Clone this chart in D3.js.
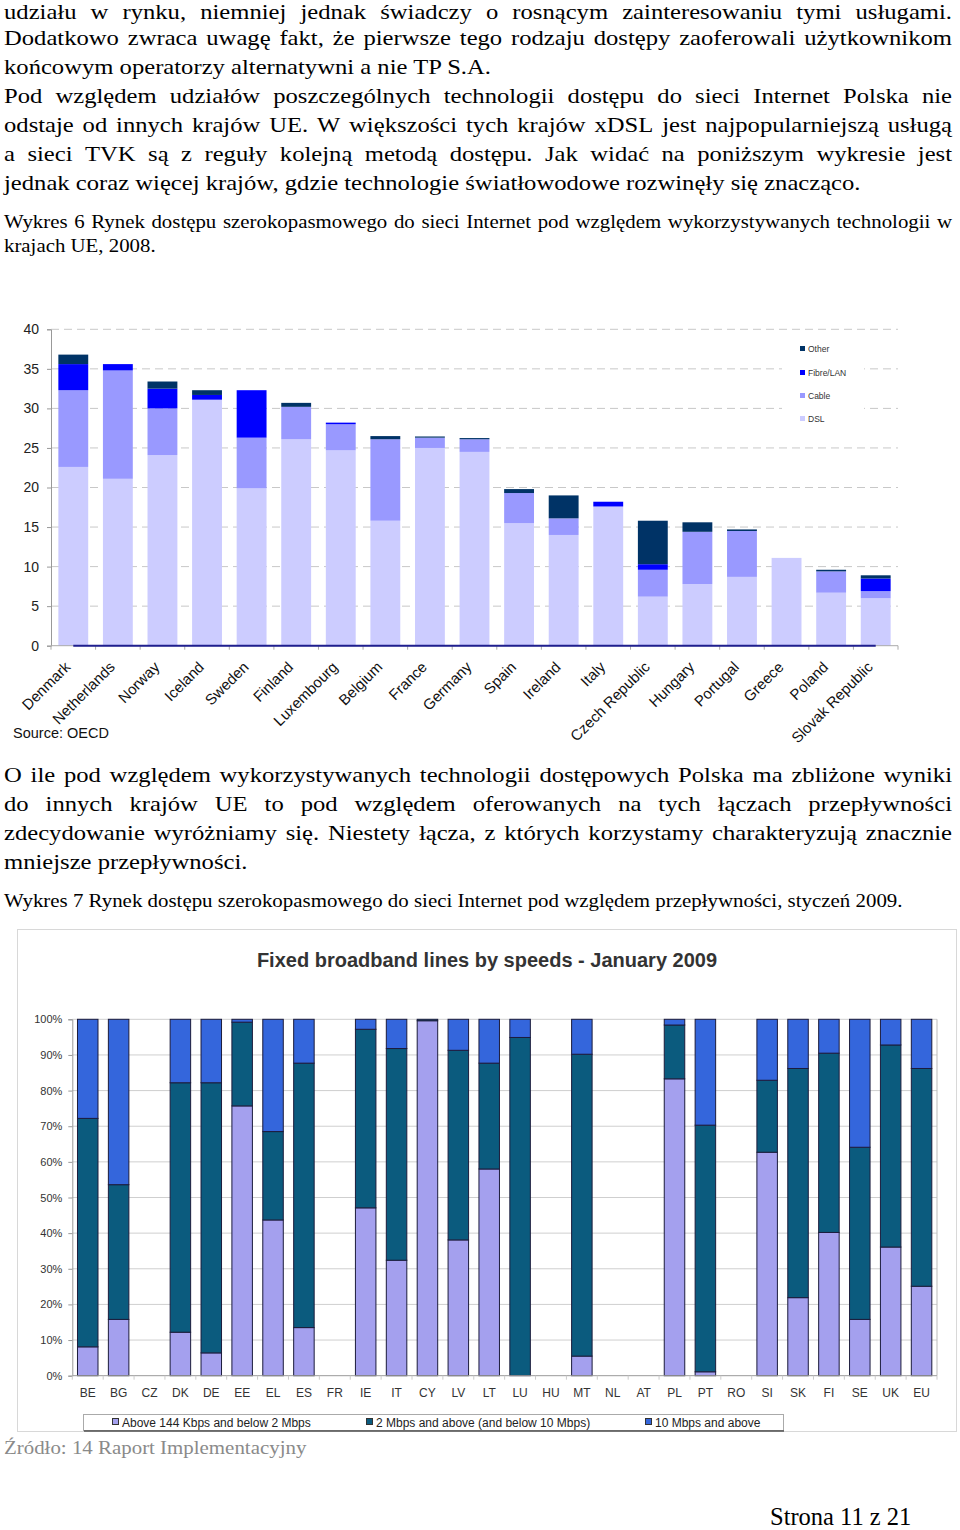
<!DOCTYPE html>
<html><head><meta charset="utf-8">
<script src="https://cdn.jsdelivr.net/npm/d3@7"></script>
<style>
body{margin:0;background:#fff;width:960px;height:1530px;overflow:hidden}
svg{display:block}
</style></head><body>
<script>
// ---------- Chart 1 data (Wykres 6) ----------
const techCountries = ["Denmark","Netherlands","Norway","Iceland","Sweden","Finland","Luxembourg","Belgium","France","Germany","Spain","Ireland","Italy","Czech Republic","Hungary","Portugal","Greece","Poland","Slovak Republic"];
const dslVals   = [22.6,21.1,24.1,31.1,19.9,26.1,24.7,15.8,25.0,24.5,15.5,14.0,17.6,6.2,7.8,8.7,11.1,6.7,6.0];
const cableVals = [9.7,13.7,5.9,0,6.4,4.1,3.3,10.3,1.3,1.6,3.8,2.1,0,3.4,6.6,5.8,0,2.7,0.9];
const fibreVals = [3.3,0.8,2.5,0.6,6.0,0,0.2,0,0,0,0,0,0.6,0.7,0,0,0,0,1.6];
const otherVals = [1.2,0,0.9,0.6,0,0.5,0,0.4,0.15,0.15,0.5,2.9,0,5.5,1.2,0.2,0,0.2,0.4];
const techSeries = ["DSL","Cable","Fibre/LAN","Other"];
const techTicks = [0,5,10,15,20,25,30,35,40];

// ---------- Chart 2 data (Wykres 7) ----------
const speedCodes = ["BE","BG","CZ","DK","DE","EE","EL","ES","FR","IE","IT","CY","LV","LT","LU","HU","MT","NL","AT","PL","PT","RO","SI","SK","FI","SE","UK","EU"];
const below2Vals  = [8.1,15.8,0,12.2,6.4,75.7,43.7,13.5,0,47.1,32.4,99.6,38.1,58.0,0,0,5.5,0,0,83.3,1.1,0,62.7,21.9,40.2,15.8,36.1,25.1];
const mid2to10Vals= [64.1,37.8,0,70.0,75.8,23.5,24.8,74.2,0,50.1,59.4,0.4,53.2,29.7,94.9,0,84.7,0,0,15.1,69.2,0,20.2,64.3,50.3,48.3,56.7,61.1];
const above10Vals = [27.8,46.4,0,17.8,17.8,0.8,31.5,12.3,0,2.8,8.2,0,8.7,12.3,5.1,0,9.8,0,0,1.6,29.7,0,17.1,13.8,9.5,35.9,7.2,13.8];
const speedSeries = ["Above 144 Kbps and below 2 Mbps","2 Mbps and above (and below 10 Mbps)","10 Mbps and above"];
const speedTicks = [0,10,20,30,40,50,60,70,80,90,100];

// ---------- Text ----------
const para1 = [
 ["udziału w rynku, niemniej jednak świadczy o rosnącym zainteresowaniu tymi usługami.", true],
 ["Dodatkowo zwraca uwagę fakt, że pierwsze tego rodzaju dostępy zaoferowali użytkownikom", true],
 ["końcowym operatorzy alternatywni a nie TP S.A.", false],
 ["Pod względem udziałów poszczególnych technologii dostępu do sieci Internet Polska nie", true],
 ["odstaje od innych krajów UE. W większości tych krajów xDSL jest najpopularniejszą usługą", true],
 ["a sieci TVK są z reguły kolejną metodą dostępu. Jak widać na poniższym wykresie jest", true],
 ["jednak coraz więcej krajów, gdzie technologie światłowodowe rozwinęły się znacząco.", false]
];
const caption1 = [
 ["Wykres 6 Rynek dostępu szerokopasmowego do sieci Internet pod względem wykorzystywanych technologii w", true],
 ["krajach UE, 2008.", false]
];
const para2 = [
 ["O ile pod względem wykorzystywanych technologii dostępowych Polska ma zbliżone wyniki", true],
 ["do innych krajów UE to pod względem oferowanych na tych łączach przepływności", true],
 ["zdecydowanie wyróżniamy się. Niestety łącza, z których korzystamy charakteryzują znacznie", true],
 ["mniejsze przepływności.", false]
];
const caption2 = "Wykres 7 Rynek dostępu szerokopasmowego do sieci Internet pod względem przepływności, styczeń 2009.";

const svg = d3.select("body").append("svg").attr("width",960).attr("height",1530);
const SERIF = "'Liberation Serif','Times New Roman',serif";
const SANS = "'Liberation Sans',Arial,sans-serif";

function textLine(str, justify, x, y, width, size, sx, color){
  const g = svg.append("g").attr("transform",`translate(${x},${y}) scale(${sx},1)`);
  const t = g.append("text").attr("font-family",SERIF).attr("font-size",size).attr("fill",color||"#000");
  if(!justify){ t.text(str); return; }
  const words = str.split(" ");
  const widths = words.map(w=>{
    const tmp = g.append("text").attr("font-family",SERIF).attr("font-size",size).text(w);
    const l = tmp.node().getComputedTextLength(); tmp.remove(); return l;
  });
  const gap = (width/sx - d3.sum(widths))/(words.length-1);
  let cx = 0;
  words.forEach((w,i)=>{ t.append("tspan").attr("x",cx).text(w); cx += widths[i]+gap; });
}
const SX = 1.12;
para1.forEach((l,i)=>textLine(l[0], l[1], 4, i===0 ? 19 : 15.5+i*29, 948, 22, SX));
caption1.forEach((l,i)=>textLine(l[0], l[1], 4, 228+i*24, 948, 19, SX*0.98));
para2.forEach((l,i)=>textLine(l[0], l[1], 4, 782+i*29, 948, 22, SX));
textLine(caption2, false, 4, 907, 948, 19, 1.1);
textLine("Źródło: 14 Raport Implementacyjny", false, 4, 1454, 948, 19, 1.1, "#8a8a8a");
textLine("Strona 11 z 21", false, 770, 1525, 200, 24.5, 1.0);

// ---------- Chart 1 ----------
(function(){
  const x = d3.scaleBand().domain(techCountries).range([51,898]).paddingInner(0.33).paddingOuter(0.165);
  const y = d3.scaleLinear().domain([0,40]).range([645.7,329.3]);
  const colors = d3.scaleOrdinal().domain(techSeries).range(["#ccccff","#9999ff","#0000ff","#003366"]);
  const g = svg.append("g");
  g.selectAll(".gl").data(techTicks.slice(1)).join("line")
    .attr("x1",51).attr("x2",898).attr("y1",d=>y(d)).attr("y2",d=>y(d))
    .attr("stroke","#c8c8c8").attr("stroke-dasharray","8,5");
  const rows = techCountries.map((c,i)=>({c, "DSL":dslVals[i], "Cable":cableVals[i], "Fibre/LAN":fibreVals[i], "Other":otherVals[i]}));
  const stack = d3.stack().keys(techSeries)(rows);
  g.selectAll(".ser").data(stack).join("g").attr("fill",d=>colors(d.key))
    .selectAll("rect").data(d=>d.filter(p=>p[1]-p[0]>0)).join("rect")
    .attr("x",d=>x(d.data.c)).attr("width",x.bandwidth())
    .attr("y",d=>y(d[1])).attr("height",d=>y(d[0])-y(d[1]));
  const ya = g.append("g").attr("transform","translate(51,0)")
    .call(d3.axisLeft(y).tickValues(techTicks).tickSize(4).tickPadding(8));
  ya.select(".domain").attr("stroke","#999");
  ya.selectAll(".tick line").attr("stroke","#999");
  ya.selectAll("text").attr("font-family",SANS).attr("font-size",14).attr("fill","#222");
  g.append("line").attr("x1",51).attr("x2",898).attr("y1",y(0)).attr("y2",y(0)).attr("stroke","#aaa");
  const bounds = techCountries.map(c=>x(c)-x.step()*x.paddingInner()/2).concat([898]);
  g.selectAll(".xt").data(bounds).join("line").attr("x1",d=>d).attr("x2",d=>d)
    .attr("y1",y(0)).attr("y2",y(0)+4).attr("stroke","#aaa");
  g.append("path").datum(techCountries).attr("fill","none").attr("stroke","#1f1f8f").attr("stroke-width",2)
    .attr("d",d3.line().x(c=>x(c)+x.bandwidth()/2).y(()=>y(0)));
  g.selectAll(".xl").data(techCountries).join("text")
    .attr("transform",c=>`translate(${x(c)+x.bandwidth()/2-2},668) rotate(-45)`)
    .attr("text-anchor","end").attr("font-family",SANS).attr("font-size",15).attr("fill","#111").text(c=>c);
  g.append("rect").attr("x",782).attr("y",338).attr("width",82).attr("height",92).attr("fill","#fff");
  const legItems = ["Other","Fibre/LAN","Cable","DSL"];
  const legY = [349,373,396,419];
  legItems.forEach((k,i)=>{
    g.append("rect").attr("x",800).attr("y",legY[i]-3).attr("width",5).attr("height",5).attr("fill",colors(k));
    g.append("text").attr("x",808).attr("y",legY[i]+3).attr("font-family",SANS).attr("font-size",8.5).attr("fill","#333").text(k);
  });
  svg.append("text").attr("x",13).attr("y",738).attr("font-family",SANS).attr("font-size",14.5).attr("fill","#111").text("Source: OECD");
})();

// ---------- Chart 2 ----------
(function(){
  const g = svg.append("g");
  g.append("rect").attr("x",17.5).attr("y",929.5).attr("width",939).attr("height",502).attr("fill","#fff").attr("stroke","#d8d8d8");
  g.append("text").attr("x",487).attr("y",967).attr("text-anchor","middle").attr("font-family",SANS)
    .attr("font-weight","bold").attr("font-size",20).attr("fill","#333").text("Fixed broadband lines by speeds - January 2009");
  const x = d3.scaleBand().domain(speedCodes).range([72.3,937]).paddingInner(0.336).paddingOuter(0.168);
  const y = d3.scaleLinear().domain([0,100]).range([1375.7,1019.3]);
  const colors = d3.scaleOrdinal().domain(speedSeries).range(["#a4a0ee","#0b5b7e","#3466dc"]);
  g.selectAll(".gl").data(speedTicks.slice(1)).join("line")
    .attr("x1",72.3).attr("x2",937).attr("y1",d=>y(d)).attr("y2",d=>y(d)).attr("stroke","#cfcfcf");
  g.append("line").attr("x1",937).attr("x2",937).attr("y1",y(100)).attr("y2",y(0)).attr("stroke","#bbb");
  const rows = speedCodes.map((c,i)=>({c, [speedSeries[0]]:below2Vals[i], [speedSeries[1]]:mid2to10Vals[i], [speedSeries[2]]:above10Vals[i]}));
  const stack = d3.stack().keys(speedSeries)(rows);
  g.selectAll(".ser").data(stack).join("g").attr("fill",d=>colors(d.key))
    .selectAll("rect").data(d=>d.filter(p=>p[1]-p[0]>0)).join("rect")
    .attr("x",d=>x(d.data.c)).attr("width",x.bandwidth())
    .attr("y",d=>y(d[1])).attr("height",d=>y(d[0])-y(d[1]))
    .attr("stroke","#1c1c3c").attr("stroke-width",1);
  const ya = g.append("g").attr("transform","translate(72.3,0)")
    .call(d3.axisLeft(y).tickValues(speedTicks).tickFormat(d=>d+"%").tickSize(4).tickPadding(6));
  ya.select(".domain").attr("stroke","#999");
  ya.selectAll(".tick line").attr("stroke","#999");
  ya.selectAll("text").attr("font-family",SANS).attr("font-size",11).attr("fill","#333");
  g.append("line").attr("x1",72.3).attr("x2",937).attr("y1",y(0)).attr("y2",y(0)).attr("stroke","#999");
  const bounds = speedCodes.map(c=>x(c)-x.step()*x.paddingInner()/2).concat([937]);
  g.selectAll(".xt").data(bounds).join("line").attr("x1",d=>d).attr("x2",d=>d)
    .attr("y1",y(0)).attr("y2",y(0)+4).attr("stroke","#ccc");
  g.selectAll(".xl").data(speedCodes).join("text")
    .attr("x",c=>x(c)+x.bandwidth()/2).attr("y",1397).attr("text-anchor","middle")
    .attr("font-family",SANS).attr("font-size",12).attr("fill","#333").text(c=>c);
  g.append("rect").attr("x",83.5).attr("y",1414.5).attr("width",700).attr("height",16).attr("fill","#fff").attr("stroke","#aaa");
  g.append("line").attr("x1",84).attr("x2",784).attr("y1",1431).attr("y2",1431).attr("stroke","#555").attr("stroke-width",1.5);
  const lx = [112,366,645];
  speedSeries.forEach((k,i)=>{
    g.append("rect").attr("x",lx[i]+0.5).attr("y",1418.5).attr("width",6).attr("height",6).attr("fill",colors(k)).attr("stroke","#333");
    g.append("text").attr("x",lx[i]+10).attr("y",1426.5).attr("font-family",SANS).attr("font-size",12).attr("fill","#222").text(k);
  });
})();
</script>
</body></html>
